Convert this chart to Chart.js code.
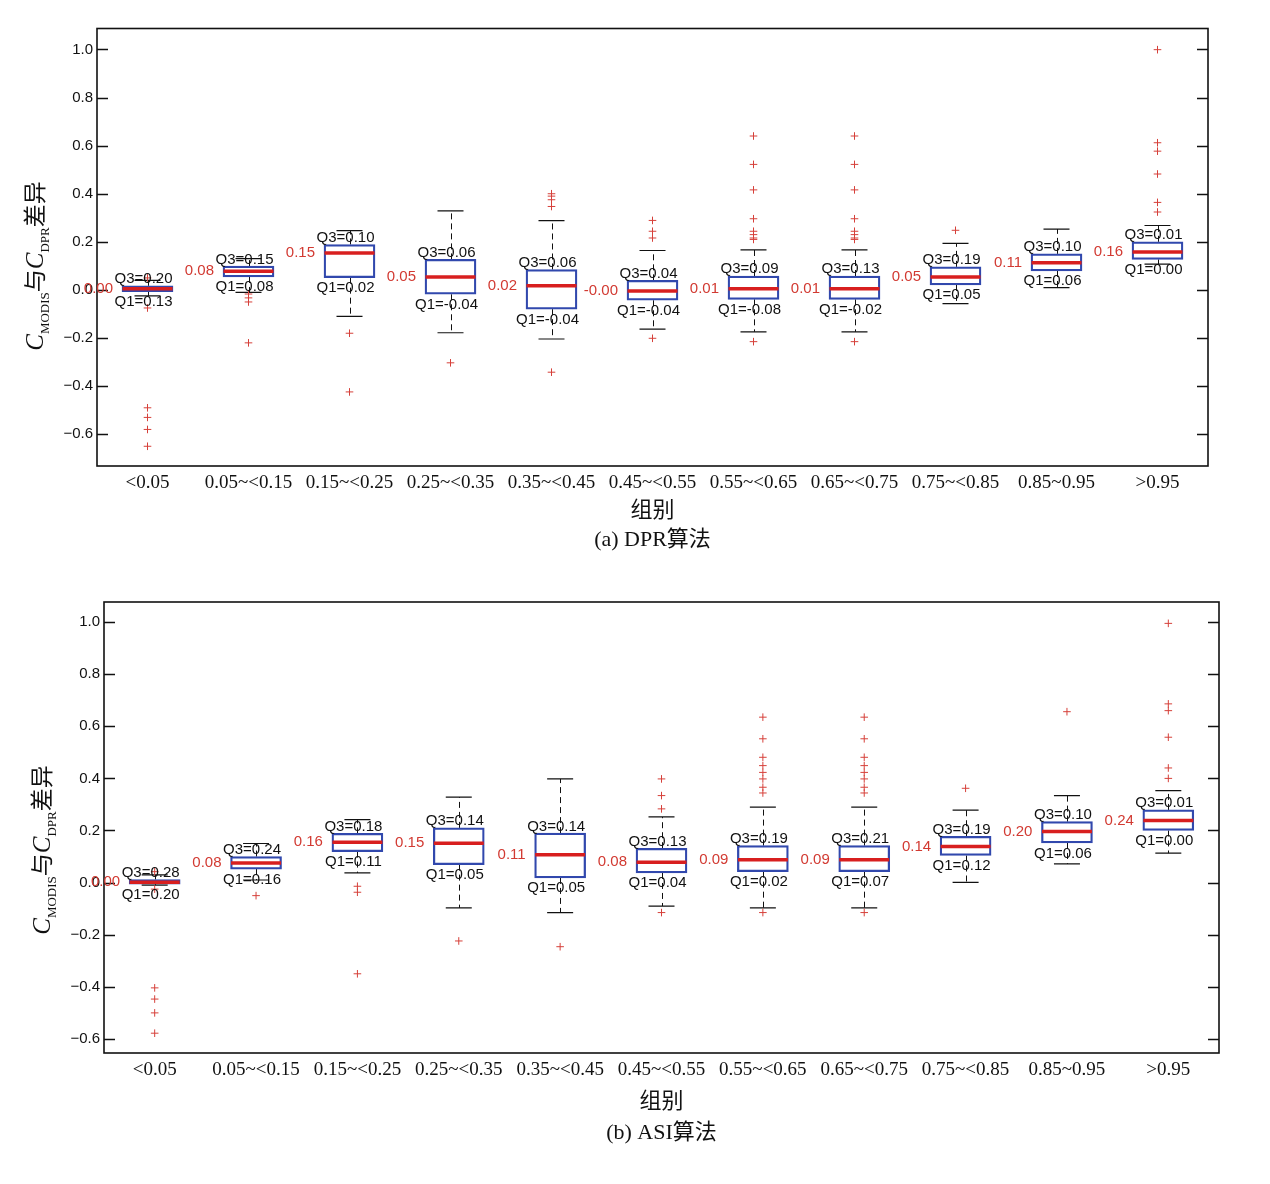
<!DOCTYPE html>
<html>
<head>
<meta charset="utf-8">
<script src="https://cdn.jsdelivr.net/npm/chart.js@4.4.1/dist/chart.umd.min.js"></script>
<style>
  html, body { margin: 0; padding: 0; background: #fff; }
  body { width: 1270px; height: 1184px; position: relative; overflow: hidden; }
  canvas { position: absolute; left: 0; }
  #dpr { top: 0; }
  #asi { top: 565px; }
</style>
</head>
<body>
<canvas id="dpr" width="1270" height="565"></canvas>
<canvas id="asi" width="1270" height="619"></canvas>
<script>
const groups = ['<0.05', '0.05~<0.15', '0.15~<0.25', '0.25~<0.35', '0.35~<0.45', '0.45~<0.55', '0.55~<0.65', '0.65~<0.75', '0.75~<0.85', '0.85~0.95', '>0.95']
const yTicks = [-0.6, -0.4, -0.2, 0, 0.2, 0.4, 0.6, 0.8, 1.0]

// (a) DPR
const dprQ1 = [-0.007, 0.054, 0.051, -0.018, -0.08, -0.043, -0.039, -0.039, 0.021, 0.079, 0.127]
const dprQ3 = [0.017, 0.099, 0.189, 0.127, 0.085, 0.04, 0.058, 0.058, 0.096, 0.15, 0.2]
const dprMedian = [0.005, 0.078, 0.154, 0.054, 0.017, -0.004, 0.005, 0.005, 0.054, 0.113, 0.158]
const dprLow = [-0.025, -0.01, -0.11, -0.178, -0.204, -0.163, -0.174, -0.174, -0.057, 0.01, 0.107]
const dprHigh = [0.04, 0.13, 0.247, 0.329, 0.288, 0.164, 0.167, 0.167, 0.194, 0.253, 0.268]
const dprOutliers = [
  [0.05, -0.075, -0.49, -0.53, -0.58, -0.65],
  [-0.017, -0.033, -0.05, -0.22],
  [-0.18, -0.424],
  [-0.303],
  [0.4, 0.39, 0.375, 0.347, -0.342],
  [0.289, 0.244, 0.216, -0.201],
  [0.64, 0.522, 0.416, 0.296, 0.244, 0.23, 0.216, 0.21, -0.215],
  [0.64, 0.522, 0.416, 0.296, 0.244, 0.23, 0.216, 0.21, -0.215],
  [0.248],
  [],
  [0.999, 0.612, 0.577, 0.482, 0.364, 0.324],
]
const dprMedianText = ['0.00', '0.08', '0.15', '0.05', '0.02', '-0.00', '0.01', '0.01', '0.05', '0.11', '0.16']
const dprQ3Text = ['Q3=0.20', 'Q3=0.15', 'Q3=0.10', 'Q3=0.06', 'Q3=0.06', 'Q3=0.04', 'Q3=0.09', 'Q3=0.13', 'Q3=0.19', 'Q3=0.10', 'Q3=0.01']
const dprQ1Text = ['Q1=0.13', 'Q1=0.08', 'Q1=0.02', 'Q1=-0.04', 'Q1=-0.04', 'Q1=-0.04', 'Q1=-0.08', 'Q1=-0.02', 'Q1=0.05', 'Q1=0.06', 'Q1=0.00']

// (b) ASI
const asiQ1 = [-0.006, 0.052, 0.119, 0.069, 0.018, 0.037, 0.042, 0.042, 0.104, 0.152, 0.2]
const asiQ3 = [0.012, 0.1, 0.189, 0.21, 0.19, 0.132, 0.142, 0.142, 0.178, 0.234, 0.279]
const asiMedian = [0.001, 0.075, 0.155, 0.151, 0.107, 0.078, 0.088, 0.088, 0.139, 0.196, 0.238]
const asiLow = [-0.01, 0.01, 0.037, -0.097, -0.115, -0.09, -0.097, -0.097, 0.001, 0.072, 0.113]
const asiHigh = [0.03, 0.15, 0.242, 0.328, 0.398, 0.252, 0.29, 0.29, 0.278, 0.334, 0.353]
const asiOutliers = [
  [0.042, -0.025, -0.404, -0.447, -0.5, -0.578],
  [-0.05],
  [-0.014, -0.037, -0.35],
  [-0.224],
  [-0.246],
  [0.398, 0.334, 0.283, -0.115],
  [0.635, 0.552, 0.481, 0.449, 0.423, 0.398, 0.366, 0.344, -0.115],
  [0.635, 0.552, 0.481, 0.449, 0.423, 0.398, 0.366, 0.344, -0.115],
  [0.362],
  [0.656],
  [0.995, 0.686, 0.66, 0.558, 0.44, 0.4],
]
const asiMedianText = ['0.00', '0.08', '0.16', '0.15', '0.11', '0.08', '0.09', '0.09', '0.14', '0.20', '0.24']
const asiQ3Text = ['Q3=0.28', 'Q3=0.24', 'Q3=0.18', 'Q3=0.14', 'Q3=0.14', 'Q3=0.13', 'Q3=0.19', 'Q3=0.21', 'Q3=0.19', 'Q3=0.10', 'Q3=0.01']
const asiQ1Text = ['Q1=0.20', 'Q1=0.16', 'Q1=0.11', 'Q1=0.05', 'Q1=0.05', 'Q1=0.04', 'Q1=0.02', 'Q1=0.07', 'Q1=0.12', 'Q1=0.06', 'Q1=0.00']

const SANS = '"Liberation Sans", Arial, sans-serif'
const SERIF = '"Liberation Serif", "Times New Roman", "Noto Sans CJK SC", serif'
const BOX_BLUE = '#3148ad'
const MEDIAN_RED = '#d81f1f'
const LABEL_RED = '#d23a32'
const BOX_WIDTH = 51

const fmtTick = (v) => (Math.abs(v) < 1e-9 ? '0.0' : v.toFixed(1).replace('-', '\u2212'))

// whisker stems, frame, inner tick marks, labels, y title
const boxPlotPlugin = {
  id: 'boxPlot',
  beforeDatasetsDraw(chart, args, opts) {
    const { ctx } = chart
    const x = chart.scales.x
    const y = chart.scales.y
    ctx.save()
    ctx.strokeStyle = '#111'
    ctx.lineWidth = 1
    ctx.setLineDash([6, 4])
    opts.q1.forEach((q1, i) => {
      const px = Math.round(x.getPixelForValue(i)) + 0.5
      ctx.beginPath()
      ctx.moveTo(px, y.getPixelForValue(opts.q3[i]))
      ctx.lineTo(px, y.getPixelForValue(opts.high[i]))
      ctx.moveTo(px, y.getPixelForValue(q1))
      ctx.lineTo(px, y.getPixelForValue(opts.low[i]))
      ctx.stroke()
    })
    ctx.restore()
  },
  afterDatasetsDraw(chart, args, opts) {
    const { ctx, chartArea: area } = chart
    const x = chart.scales.x
    const y = chart.scales.y
    ctx.save()

    // frame and inward ticks
    ctx.strokeStyle = '#111'
    ctx.lineWidth = 1.6
    ctx.strokeRect(area.left, area.top, area.right - area.left, area.bottom - area.top)
    ctx.lineWidth = 1.4
    yTicks.forEach((v) => {
      const py = Math.round(y.getPixelForValue(v)) + 0.5
      ctx.beginPath()
      ctx.moveTo(area.left, py)
      ctx.lineTo(area.left + 11, py)
      ctx.moveTo(area.right, py)
      ctx.lineTo(area.right - 11, py)
      ctx.stroke()
    })

    // box labels
    ctx.font = `15px ${SANS}`
    opts.q1.forEach((q1, i) => {
      const px = x.getPixelForValue(i)
      const top = y.getPixelForValue(opts.q3[i])
      const bottom = y.getPixelForValue(q1)
      const mid = y.getPixelForValue(opts.median[i])
      ctx.fillStyle = '#111'
      ctx.textAlign = 'center'
      ctx.textBaseline = 'alphabetic'
      ctx.fillText(opts.q3Text[i], px - 4, top - 2.5)
      ctx.fillText(opts.q1Text[i], px - 4, bottom + 14.5)
      ctx.fillStyle = LABEL_RED
      ctx.textAlign = 'right'
      ctx.textBaseline = 'middle'
      ctx.fillText(opts.medianText[i], px - BOX_WIDTH / 2 - 9, mid)
    })

    // rotated y title with subscripts
    const parts = [
      { t: 'C', font: `italic 25px ${SERIF}`, dy: 0 },
      { t: 'MODIS', font: `13px ${SERIF}`, dy: 6 },
      { t: '与', font: `23px ${SERIF}`, dy: 0 },
      { t: 'C', font: `italic 25px ${SERIF}`, dy: 0 },
      { t: 'DPR', font: `13px ${SERIF}`, dy: 6 },
      { t: '差异', font: `23px ${SERIF}`, dy: 0 },
    ]
    const widths = parts.map((p) => {
      ctx.font = p.font
      return ctx.measureText(p.t).width
    })
    const total = widths.reduce((a, b) => a + b, 0)
    ctx.translate(opts.titleX, opts.titleY)
    ctx.rotate(-Math.PI / 2)
    ctx.fillStyle = '#111'
    ctx.textAlign = 'left'
    ctx.textBaseline = 'alphabetic'
    let cx = -total / 2
    parts.forEach((p, i) => {
      ctx.font = p.font
      ctx.fillText(p.t, cx, p.dy)
      cx += widths[i]
    })
    ctx.restore()
  },
}

const makeChart = (id, d) => {
  const canvas = document.getElementById(id)
  const outlierPoints = []
  d.outliers.forEach((list, i) => {
    list.forEach((v) => outlierPoints.push({ x: groups[i], y: v }))
  })

  return new Chart(canvas.getContext('2d'), {
    type: 'bar',
    data: {
      labels: groups,
      datasets: [
        {
          type: 'line',
          label: 'median',
          data: d.median,
          showLine: false,
          pointStyle: 'line',
          pointRadius: BOX_WIDTH / 2 - 0.5,
          pointBorderWidth: 3.5,
          pointBorderColor: MEDIAN_RED,
          order: 0,
        },
        {
          type: 'line',
          label: 'outliers',
          data: outlierPoints,
          showLine: false,
          pointStyle: 'cross',
          pointRadius: 3.8,
          pointBorderWidth: 1,
          pointBorderColor: '#d6403a',
          order: 1,
        },
        {
          type: 'line',
          label: 'upper',
          data: d.high,
          showLine: false,
          pointStyle: 'line',
          pointRadius: 13,
          pointBorderWidth: 1.2,
          pointBorderColor: '#111',
          order: 2,
        },
        {
          type: 'line',
          label: 'lower',
          data: d.low,
          showLine: false,
          pointStyle: 'line',
          pointRadius: 13,
          pointBorderWidth: 1.2,
          pointBorderColor: '#111',
          order: 2,
        },
        {
          label: 'box',
          data: d.q1.map((v, i) => [v, d.q3[i]]),
          backgroundColor: 'rgba(255, 255, 255, 0)',
          borderColor: BOX_BLUE,
          borderWidth: 1.6,
          borderSkipped: false,
          barThickness: BOX_WIDTH,
          order: 3,
        },
      ],
    },
    options: {
      responsive: false,
      animation: false,
      events: [],
      layout: { padding: d.padding },
      plugins: {
        legend: { display: false },
        tooltip: { enabled: false },
        boxPlot: {
          q1: d.q1,
          q3: d.q3,
          median: d.median,
          low: d.low,
          high: d.high,
          q1Text: d.q1Text,
          q3Text: d.q3Text,
          medianText: d.medianText,
          titleX: d.titleX,
          titleY: d.titleY,
        },
      },
      scales: {
        x: {
          afterFit: (scale) => { scale.height = d.xHeight },
          grid: { display: false, drawTicks: false },
          border: { display: false },
          ticks: {
            color: '#111',
            font: { family: SERIF, size: 19 },
            padding: 6,
            maxRotation: 0,
            autoSkip: false,
          },
          title: {
            display: true,
            text: ['组别', d.caption],
            color: '#111',
            font: { family: SERIF, size: 22, lineHeight: d.titleLine },
            padding: { top: 0, bottom: d.titlePad },
          },
        },
        y: {
          min: d.min,
          max: d.max,
          afterFit: (scale) => { scale.width = d.yWidth },
          afterBuildTicks: (scale) => { scale.ticks = yTicks.map((v) => ({ value: v })) },
          grid: { display: false, drawTicks: false },
          border: { display: false },
          ticks: {
            color: '#111',
            font: { family: SANS, size: 15 },
            padding: 4,
            callback: (v) => fmtTick(v),
          },
        },
      },
    },
    plugins: [boxPlotPlugin],
  })
}

makeChart('dpr', {
  q1: dprQ1, q3: dprQ3, median: dprMedian, low: dprLow, high: dprHigh, outliers: dprOutliers,
  q1Text: dprQ1Text, q3Text: dprQ3Text, medianText: dprMedianText,
  caption: '(a) DPR算法',
  min: -0.732, max: 1.087,
  padding: { top: 26, right: 62, left: 0, bottom: 0 },
  yWidth: 97, xHeight: 99, titlePad: 10.5, titleLine: 1.32,
  titleX: 43, titleY: 266,
})

makeChart('asi', {
  q1: asiQ1, q3: asiQ3, median: asiMedian, low: asiLow, high: asiHigh, outliers: asiOutliers,
  q1Text: asiQ1Text, q3Text: asiQ3Text, medianText: asiMedianText,
  caption: '(b) ASI算法',
  min: -0.654, max: 1.077,
  padding: { top: 37, right: 51, left: 0, bottom: 0 },
  yWidth: 104, xHeight: 131, titlePad: 35.5, titleLine: 1.41,
  titleX: 50, titleY: 285,
})
</script>
</body>
</html>
